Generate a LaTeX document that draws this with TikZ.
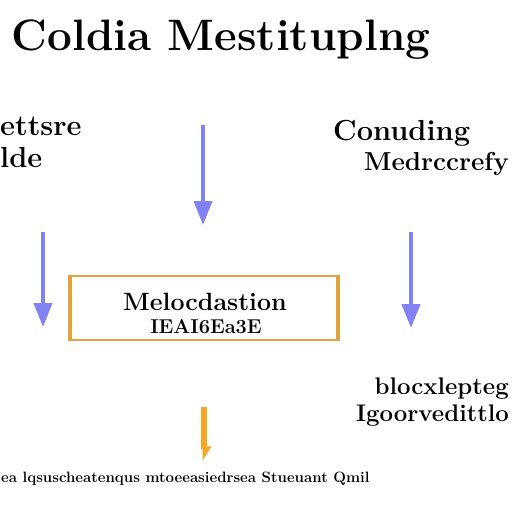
\documentclass[tikz,border=0pt]{standalone}
\usepackage{tikz}
\usetikzlibrary{arrows.meta, positioning}
\usepackage{xcolor}
\definecolor{flowblue}{HTML}{8282F4}
\definecolor{boxgold}{HTML}{E2A23C}
\definecolor{barorange}{HTML}{F5A623}

\begin{document}
\begin{tikzpicture}[x=1pt,y=-1pt,
  flowarrow/.style={line width=4pt, flowblue, -{Triangle[width=18pt,length=24pt]}},
  label/.style={font=\fontsize{29}{32}\selectfont\bfseries, inner sep=0pt}]
\useasboundingbox[fill=white] (0,0) rectangle (512,512);
% heading
\node[font=\fontsize{44}{48}\selectfont\bfseries, inner sep=0pt] (title) at (221,40) {Coldia Mestituplng};
% side labels
\node[label, anchor=west] (lefttop) at (0,126) {ettsre};
\node[label, anchor=west] (leftbot) at (0,158) {lde};
\node[label, anchor=west] (righttop) at (333,133) {Conuding};
\node[label, font=\fontsize{26}{30}\selectfont\bfseries, anchor=east] (rightbot) at (509,164) {Medrccrefy};
% arrows
\coordinate (ca) at (203,125);
\coordinate (cb) at (203,225);
\coordinate (la) at (43,232);
\coordinate (lb) at (43,327);
\coordinate (ra) at (411,232);
\coordinate (rb) at (411,328);
\draw[flowarrow] (ca) -- (cb);
\draw[flowarrow] (la) -- (lb);
\draw[flowarrow] (ra) -- (rb);
% middle box
\node[draw=boxgold, line width=2pt, minimum width=266pt, minimum height=64pt, inner sep=0pt] (box) at (204,308) {};
\draw[boxgold, line width=4pt] (box.north west) -- (box.south west);
\draw[boxgold, line width=4pt] (box.north east) -- (box.south east);
\node[font=\fontsize{25}{28}\selectfont\bfseries, inner sep=0pt] (boxtop) at (205,302) {Melocdastion};
\node[font=\fontsize{20}{24}\selectfont\bfseries, inner sep=0pt] (boxbot) at (206,327) {IEAI6Ea3E};
% lower right labels
\node[label, font=\fontsize{24}{28}\selectfont\bfseries, anchor=east] (lowtop) at (509,389) {blocxlepteg};
\node[label, font=\fontsize{24}{28}\selectfont\bfseries, anchor=east] (lowbot) at (509,416) {Igoorvedittlo};
% orange bar
\coordinate (oa) at (204,407);
\coordinate (ob) at (204,461);
\draw[barorange, line width=6pt, -{Triangle[width=14pt,length=12pt,left]}] (oa) -- (ob);
% footer
\node[font=\fontsize{15}{18}\selectfont\bfseries, anchor=west, inner sep=0pt] (footer) at (1,479) {ea lqsuscheatenqus mtoeeasiedrsea Stueuant Qmil};
\end{tikzpicture}
\end{document}
